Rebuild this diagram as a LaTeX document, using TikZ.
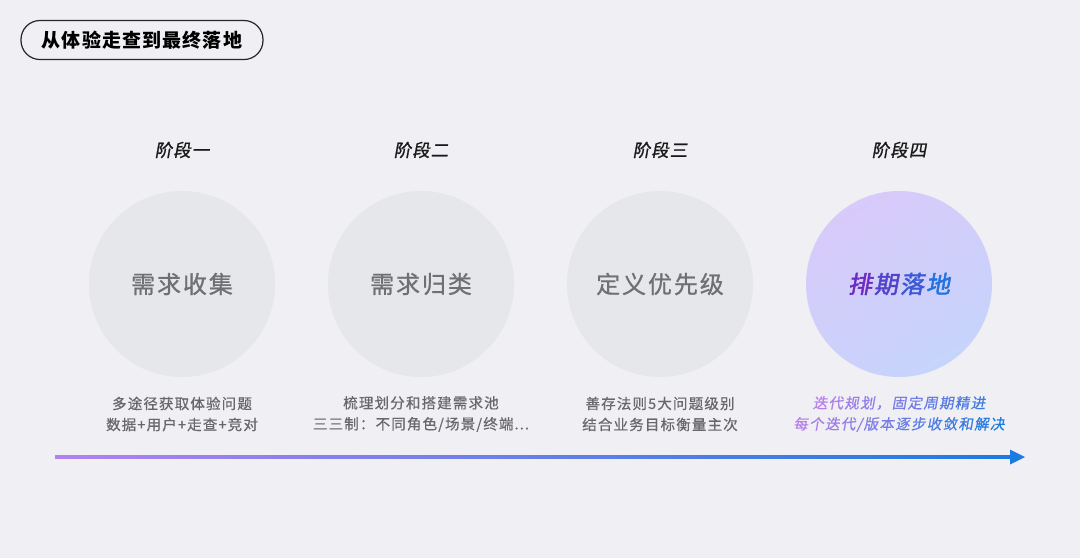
\documentclass[tikz,border=0pt]{standalone}
\usepackage{fontspec}
\setmainfont{Noto Sans CJK SC}
\newfontfamily\cjk{Noto Sans CJK SC}
\newfontfamily\cjktitle[LetterSpace=6]{Noto Sans CJK SC}
\newfontfamily\cjkcirc[LetterSpace=8,FakeBold=0.8]{Noto Sans CJK SC}
\newfontfamily\cjkdesc[LetterSpace=8,FakeBold=0.6]{Noto Sans CJK SC}
\newfontfamily\cjkdescsl[FakeBold=0.6,FakeSlant=0.18]{Noto Sans CJK SC}
\newfontfamily\cjkslant[FakeSlant=0.18,FakeBold=1,LetterSpace=6]{Noto Sans CJK SC}
\newfontfamily\cjkslantbold[FakeSlant=0.18,FakeBold=2]{Noto Sans CJK SC}
\usetikzlibrary{shadings}
\definecolor{bg}{HTML}{EFEFF4}
\definecolor{circ}{HTML}{E6E7EB}
\definecolor{circtxt}{HTML}{707072}
\definecolor{desc}{HTML}{68686A}
\definecolor{gA}{HTML}{B77EEA}
\definecolor{gB}{HTML}{1E7BE0}
\definecolor{tA}{HTML}{6E2AC0}
\definecolor{tB}{HTML}{2272E0}
\definecolor{arrA}{HTML}{B282F0}
\definecolor{arrM}{HTML}{5050D4}
\definecolor{arrB}{HTML}{1C7BE2}
\definecolor{c4a}{HTML}{D8CAFA}
\definecolor{c4b}{HTML}{C6D4FB}
\newcommand{\gc}[2]{\kern0.65pt\textcolor{gB!#1!gA}{#2}\kern0.65pt}
\newcommand{\tc}[2]{\kern1pt\textcolor{tB!#1!tA}{#2}\kern1pt}
\tikzset{
  stagelbl/.style={font=\cjkslant\fontsize{17.5}{20}\selectfont, text=black!90, inner sep=0pt},
  phase/.style={circle, minimum size=186pt, inner sep=0pt, fill=circ, text=circtxt, font=\cjkcirc\fontsize{24}{28}\selectfont},
  desctxt/.style={align=center, font=\cjkdesc\fontsize{14.5}{21}\selectfont, text=desc, inner sep=0pt},
}
\begin{document}
\begin{tikzpicture}[x=1pt,y=-1pt]
\fill[bg] (0,0) rectangle (1080,558);
\useasboundingbox (0,0) rectangle (1080,558);
% title
\node[draw=black!85, line width=1.2pt, rounded corners=19pt, minimum width=242pt, minimum height=39pt, inner sep=0pt, font=\cjktitle\bfseries\fontsize{19}{22}\selectfont] (title) at (142,40) {从体验走查到最终落地};
% stage labels
\node[stagelbl] (s1) at (182,150) {阶段一};
\node[stagelbl] (s2) at (421,150) {阶段二};
\node[stagelbl] (s3) at (660,150) {阶段三};
\node[stagelbl] (s4) at (899,150) {阶段四};
% circles
\node[phase] (c1) at (182,284) {需求收集};
\node[phase] (c2) at (421,284) {需求归类};
\node[phase] (c3) at (660,284) {定义优先级};
\node[phase, fill=none, shading=axis, top color=c4a, bottom color=c4b, shading angle=30, font=\cjkslantbold\fontsize{24}{28}\selectfont] (c4) at (899,284) {\tc{0}{排}\tc{33}{期}\tc{66}{落}\tc{100}{地}};
% descriptions
\node[desctxt] (d1) at (182,414) {多途径获取体验问题\\数据+用户+走查+竞对};
\node[desctxt] (d2) at (421,414) {梳理划分和搭建需求池\\三三制：不同角色/场景/终端...};
\node[desctxt] (d3) at (660,414) {善存法则5大问题级别\\结合业务目标衡量主次};
\node[desctxt, font=\cjkdescsl\fontsize{14.5}{21}\selectfont] (d4) at (899,414) {\gc{0}{迭}\gc{8}{代}\gc{16}{规}\gc{24}{划}\gc{30}{，}\gc{38}{固}\gc{46}{定}\gc{54}{周}\gc{62}{期}\gc{70}{精}\gc{78}{进}\\
\gc{0}{每}\gc{8}{个}\gc{16}{迭}\gc{24}{代}\gc{30}{/}\gc{36}{版}\gc{44}{本}\gc{52}{逐}\gc{60}{步}\gc{68}{收}\gc{76}{敛}\gc{84}{和}\gc{92}{解}\gc{100}{决}};
% timeline
\coordinate (tl0) at (55,457);
\coordinate (tl1) at (1010,457);
\coordinate (tl2) at (1025,457);
\shade[left color=arrA, middle color=arrM, right color=arrB] ([yshift=-1.5pt]tl0) rectangle ([yshift=1.5pt]tl1);
\fill[arrB] ([yshift=-7.5pt]tl1) -- (tl2) -- ([yshift=7.5pt]tl1) -- cycle;
\end{tikzpicture}
\end{document}
